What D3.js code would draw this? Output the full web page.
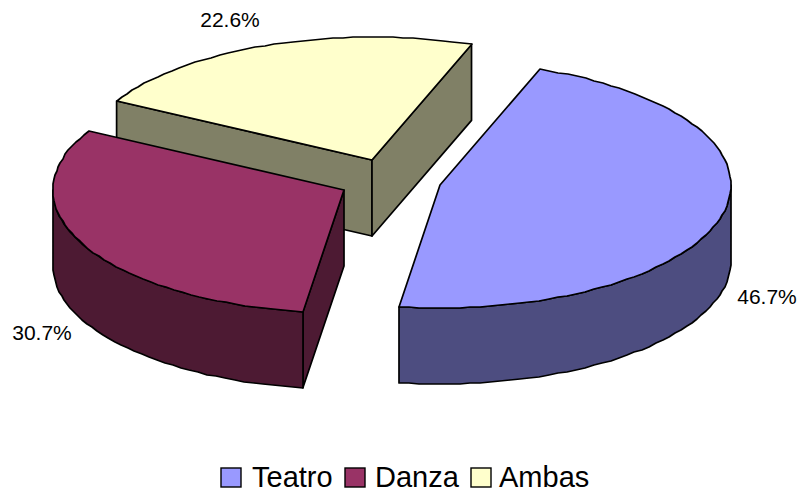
<!DOCTYPE html>
<html>
<head>
  <meta charset="utf-8">
  <script src="https://d3js.org/d3.v7.min.js"></script>
  <style>
    html, body { margin: 0; padding: 0; background: #fff; }
    text { font-family: "Liberation Sans", Arial, sans-serif; fill: #000; }
    .face { stroke: #000; stroke-width: 1.7; stroke-linejoin: round; }
  </style>
</head>
<body>
  <div id="chart"></div>
  <script>
    var categories = ["Teatro", "Danza", "Ambas"];
    var values = [46.7, 30.7, 22.6];
    var topColors = ["#9999ff", "#993366", "#ffffcc"];
    var wallColors = ["#4d4d80", "#4d1a33", "#808066"];

    var width = 802, height = 492;
    var rx = 291, ry = 123, depth = 76;
    // each slice is pulled out of the pie by its own amount
    var centers = [[440, 185], [344, 190], [372, 160]];
    var labelPos = [[767, 304], [42, 340], [230, 27]];
    var legendX = [221, 345, 471];
    var legendTextX = [252, 375, 499];

    var svg = d3.select("#chart").append("svg")
      .attr("width", width)
      .attr("height", height)
      .style("display", "block");

    var pie = d3.pie()
      .sort(null)
      .startAngle(20 * Math.PI / 180)
      .endAngle(380 * Math.PI / 180);

    var slices = pie(values);
    var line = d3.line();

    function ellipsePoint(c, a, dy) {
      return [c[0] + rx * Math.sin(a), c[1] - ry * Math.cos(a) + dy];
    }

    // coarse, whole pixel steps give the slightly rough edge of the original
    function arcPoints(c, a0, a1, dy) {
      var n = Math.max(2, Math.ceil(Math.abs(a1 - a0) / 0.035));
      return d3.range(n + 1).map(function(i) {
        var p = ellipsePoint(c, a0 + (a1 - a0) * i / n, dy);
        return [Math.round(p[0]), Math.round(p[1])];
      });
    }

    function drawFace(pts, fill) {
      svg.append("path")
        .attr("class", "face")
        .attr("fill", fill)
        .attr("d", line(pts) + "Z");
    }

    function cutWall(c, a, fill) {
      var p = ellipsePoint(c, a, 0);
      drawFace([c, p, [p[0], p[1] + depth], [c[0], c[1] + depth]], fill);
    }

    // back to front: Ambas, Danza, Teatro
    d3.range(slices.length - 1, -1, -1).forEach(function(i) {
      var s = slices[i], c = centers[i];

      if (Math.sin(s.startAngle) < 0) cutWall(c, s.startAngle, wallColors[i]);
      if (Math.sin(s.endAngle) > 0) cutWall(c, s.endAngle, wallColors[i]);

      // outer wall, only the front half of the ellipse shows
      var from = Math.max(s.startAngle, Math.PI / 2);
      var to = Math.min(s.endAngle, 3 * Math.PI / 2);
      if (to > from) {
        drawFace(arcPoints(c, from, to, 0).concat(arcPoints(c, to, from, depth)), wallColors[i]);
      }

      drawFace([c].concat(arcPoints(c, s.startAngle, s.endAngle, 0)), topColors[i]);
    });

    svg.selectAll(".pct")
      .data(values)
      .enter().append("text")
      .attr("class", "pct")
      .attr("x", function(d, i) { return labelPos[i][0]; })
      .attr("y", function(d, i) { return labelPos[i][1]; })
      .attr("text-anchor", "middle")
      .style("font-size", "21px")
      .text(function(d) { return d.toFixed(1) + "%"; });

    var legend = svg.selectAll(".legend")
      .data(categories)
      .enter().append("g")
      .attr("class", "legend");

    legend.append("rect")
      .attr("x", function(d, i) { return legendX[i]; })
      .attr("y", 468)
      .attr("width", 20)
      .attr("height", 19)
      .attr("fill", function(d, i) { return topColors[i]; })
      .attr("stroke", "#000")
      .attr("stroke-width", 1.4);

    legend.append("text")
      .attr("x", function(d, i) { return legendTextX[i]; })
      .attr("y", 487)
      .style("font-size", "29px")
      .text(function(d) { return d; });
  </script>
</body>
</html>
